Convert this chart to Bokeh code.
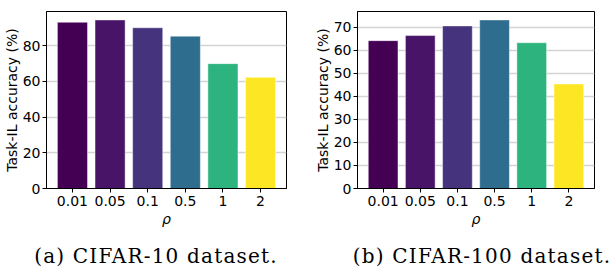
from bokeh.plotting import figure
from bokeh.layouts import row, column
from bokeh.models import Range1d, FixedTicker, Div, ColumnDataSource
from bokeh.embed import file_html
from bokeh.resources import INLINE

rho_labels = ["0.01", "0.05", "0.1", "0.5", "1", "2"]
cifar10_acc = [93.2, 94.5, 90.1, 85.4, 70.0, 62.3]
cifar100_acc = [64.2, 66.4, 70.6, 73.2, 63.3, 45.4]
bar_colors = ["#440154", "#481467", "#46337e", "#2e6d8e", "#2db37d", "#fde725"]
yticks_10 = [0, 20, 40, 60, 80]
yticks_100 = [0, 10, 20, 30, 40, 50, 60, 70]
captions = ["(a) CIFAR-10 dataset.", "(b) CIFAR-100 dataset."]

FONT = "DejaVu Sans"
FIG_H = 230


def make_fig(values, yticks, width, border_left, border_right, border_top):
    idx = list(range(len(rho_labels)))
    src = ColumnDataSource(dict(x=idx, top=values, color=bar_colors))
    p = figure(width=width, height=FIG_H, output_backend="svg", toolbar_location=None,
               x_range=Range1d(-0.69, len(idx) - 0.31),
               y_range=Range1d(0, max(values) * 1.05),
               min_border_left=border_left, min_border_right=border_right,
               min_border_top=border_top, min_border_bottom=42)
    p.vbar(x="x", top="top", width=0.8, fill_color="color", source=src,
           line_color="white", line_alpha=0.45, line_width=1)
    p.xgrid.visible = False
    p.ygrid.grid_line_color = "#d4d4d4"
    p.ygrid.grid_line_width = 1.3
    p.outline_line_color = "black"
    p.outline_line_width = 1
    p.outline_line_alpha = 1

    p.xaxis.ticker = FixedTicker(ticks=idx)
    p.xaxis.major_label_overrides = {i: l for i, l in enumerate(rho_labels)}
    p.yaxis.ticker = FixedTicker(ticks=yticks)
    for ax in (p.xaxis[0], p.yaxis[0]):
        ax.axis_line_color = "black"
        ax.major_tick_line_color = "black"
        ax.major_tick_out = 4
        ax.major_tick_in = 0
        ax.minor_tick_line_color = None
        ax.major_label_text_font = FONT
        ax.major_label_text_font_size = "14px"
        ax.major_label_text_color = "black"
        ax.major_label_standoff = 3
        ax.axis_label_text_font = FONT
        ax.axis_label_text_font_size = "14px"
        ax.axis_label_text_color = "black"
    p.yaxis.major_label_standoff = 2
    p.xaxis.axis_label = "ρ"
    p.xaxis.axis_label_text_font_style = "italic"
    p.xaxis.axis_label_standoff = 2
    p.yaxis.axis_label = "Task-IL accuracy (%)"
    p.yaxis.axis_label_text_font_style = "normal"
    p.yaxis.axis_label_standoff = 0
    return p


def make_caption(text, width, shift):
    return Div(text=text, width=width, height=258 - FIG_H,
               styles={"font-family": "DejaVu Serif", "font-size": "20px",
                       "letter-spacing": "1.2px",
                       "color": "black", "text-align": "center",
                       "padding-top": "7px", "padding-left": f"{shift}px",
                       "box-sizing": "border-box", "white-space": "nowrap"})


p1 = make_fig(cifar10_acc, yticks_10, 302, 0, 16, 1)
p2 = make_fig(cifar100_acc, yticks_100, 298, 55, 6, 11)
d1 = make_caption(captions[0], 302, 0)
d2 = make_caption(captions[1], 298, 32)

layout = column(row(p1, p2), row(d1, d2), spacing=0)
open("out.html", "w").write(file_html(layout, INLINE))
